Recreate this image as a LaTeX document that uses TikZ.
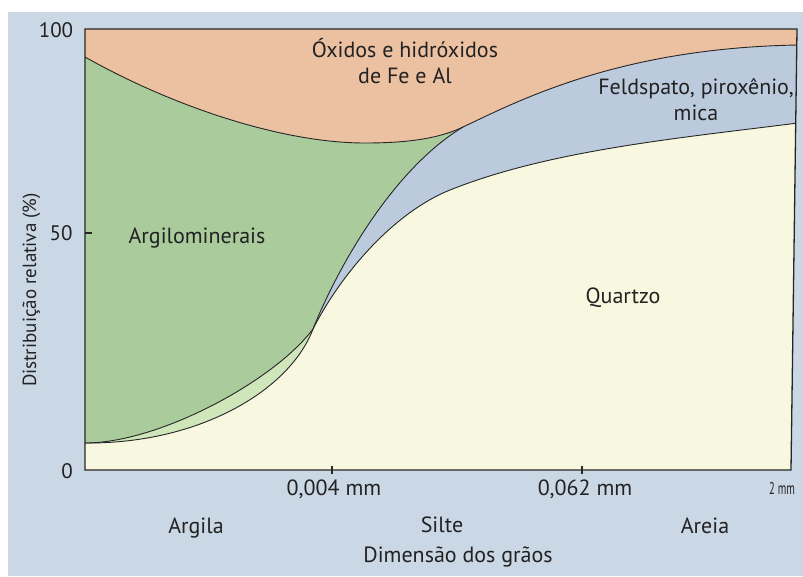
\documentclass[tikz,border=0pt]{standalone}
\usepackage{fontspec}
\setmainfont{PT Sans}
\definecolor{bgc}{HTML}{CAD7E4}
\definecolor{oxc}{HTML}{ECC1A1}
\definecolor{grc}{HTML}{AACB9C}
\definecolor{blc}{HTML}{BBCBDD}
\definecolor{qzc}{HTML}{F8F8E0}
\definecolor{lnc}{HTML}{CFE5BA}
\definecolor{txc}{HTML}{222222}
\def\Aseg{.. controls (170,105) and (280,143) .. (365,143) .. controls (410,143) and (440,138) .. (463,127) .. controls (520,100) and (620,48) .. (798,45)}
\def\Bone{.. controls (160,443) and (275,380) .. (313,329)}
\def\Btwo{.. controls (340,262) and (395,168) .. (463,127)}
\def\Cone{.. controls (200,444) and (290,390) .. (313,329)}
\def\Ctwo{.. controls (342,272) and (395,212) .. (450,190) .. controls (550,150) and (680,138) .. (798,123)}
\begin{document}
\begin{tikzpicture}[x=1pt,y=-1pt,
  lbl/.style={font=\fontsize{22}{26}\selectfont, text=txc, inner sep=0pt, anchor=base},
  curve/.style={draw=black!85, line width=0.9pt},
  frame/.style={draw=black!85, line width=1.3pt}]
\useasboundingbox (0,0) rectangle (803,576);
\fill[white] (0,0) rectangle (803,576);
\fill[bgc] (8,12) rectangle (803,576);
\begin{scope}
  \clip (85,29) -- (797,29) -- (791,470) -- (85,470) -- cycle;
  \fill[qzc] (80,20) rectangle (800,475);
  \fill[blc] (80,20) -- (80,443) -- (85,443) \Cone \Ctwo -- (800,123) -- (800,20) -- cycle;
  \begin{scope}
    \clip (80,20) rectangle (313,475);
    \fill[lnc] (80,20) -- (80,443) -- (85,443) \Cone \Ctwo -- (800,123) -- (800,20) -- cycle;
  \end{scope}
  \fill[grc] (80,20) -- (80,443) -- (85,443) \Bone \Btwo -- (463,20) -- cycle;
  \fill[oxc] (80,20) -- (80,57) -- (85,57) \Aseg -- (800,45) -- (800,20) -- cycle;
  \draw[curve] (85,57) \Aseg;
  \draw[curve] (85,443) \Bone \Btwo;
  \draw[curve] (85,443) \Cone \Ctwo;
\end{scope}
\draw[frame] (85,29) -- (797,29) -- (791,470) -- (85,470) -- cycle;
\draw[frame] (85,233) -- (92,233);
\draw[frame] (332,466) -- (332,474);
\draw[frame] (582,466) -- (582,474);
\node[lbl, font=\fontsize{21}{24}\selectfont] (y100) at (56,37) {100};
\node[lbl, font=\fontsize{21}{24}\selectfont] (y50) at (61,240) {50};
\node[lbl, font=\fontsize{21}{24}\selectfont] (y0) at (67,478) {0};
\node[lbl, rotate=90, font=\fontsize{19}{22}\selectfont] (ylab) at (36,290) {Distribuição relativa (\%)};
\node[lbl, align=center] (oxi) at (405,83) {Óxidos e hidróxidos\\de Fe e Al};
\node[lbl, align=center] (fel) at (696,120) {Feldspato, piroxênio,\\mica};
\node[lbl] (arg) at (197,243) {Argilominerais};
\node[lbl] (qtz) at (623,303) {Quartzo};
\node[lbl] (t004) at (334,495) {0,004 mm};
\node[lbl] (t062) at (585,495) {0,062 mm};
\node[lbl, anchor=base west, font=\fontsize{17}{20}\selectfont] (t2) at (769,494) {\scalebox{0.62}[1]{2 mm}};
\node[lbl] (argila) at (196,533) {Argila};
\node[lbl] (silte) at (442,532) {Silte};
\node[lbl] (areia) at (705,533) {Areia};
\node[lbl] (dim) at (458,562) {Dimensão dos grãos};
\end{tikzpicture}
\end{document}
